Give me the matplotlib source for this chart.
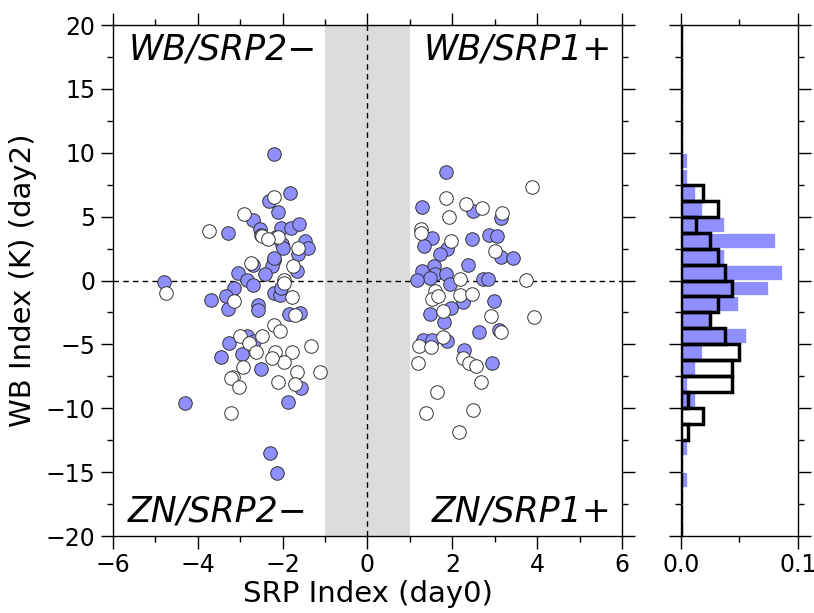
import matplotlib

matplotlib.use("Agg")

import matplotlib.pyplot as plt
import numpy as np
from matplotlib.ticker import MultipleLocator

plt.rcParams["font.family"] = ["DejaVu Sans"]

# filled (blue) points: SRP index (day0), WB index (day2)
blue_x = [-1.83, -2.32, -2.12, -2.70, -3.30, -2.54, -2.03, -1.81, -1.61, -2.15,
          -2.52, -2.01, -1.99, -1.48, -1.40, -1.64, -1.67, -2.71, -2.20, -2.26,
          -2.20, -2.42, -3.05, -2.83, -2.21, -4.80, -2.70, -3.15, -3.70, -3.33,
          -3.29, -2.59, -2.58, -2.20, -2.07, -2.03, -1.86, -1.60, -2.85, -2.67,
          -3.27, -2.96, -3.46, -2.52, -1.56, -4.31, -2.30, -2.13, -1.87,
          1.84, 1.29, 2.49, 3.14, 1.53, 1.33, 2.47, 2.86, 3.06, 1.88,
          1.72, 3.14, 3.43, 2.37, 1.56, 1.29, 1.59, 1.47, 1.86, 2.73,
          2.83, 1.16, 1.94, 2.25, 2.98, 1.98, 1.47, 1.81, 2.62, 3.10,
          1.31, 1.51, 1.88, 2.27, 2.94]
blue_y = [6.87, 6.22, 5.34, 4.74, 3.74, 4.01, 4.08, 4.08, 4.40, 3.38,
          3.56, 2.86, 2.52, 3.12, 2.57, 2.07, 0.77, 1.21, 1.60, 1.13,
          1.74, 0.51, 0.56, 0.05, 9.90, -0.09, -0.38, -0.55, -1.55, -1.24,
          -2.21, -1.94, -2.33, -0.98, -1.11, -0.59, -2.62, -2.54, -4.37, -4.76,
          -4.89, -5.75, -5.99, -6.90, -8.41, -9.56, -13.53, -15.04, -9.49,
          8.52, 5.73, 5.44, 4.87, 3.30, 2.70, 3.22, 3.56, 3.51, 2.44,
          2.07, 1.86, 1.79, 1.21, 1.13, 0.77, 0.51, 0.17, 0.51, 0.09,
          0.09, 0.04, -0.27, -1.68, -1.58, -2.15, -2.60, -3.27, -4.06, -3.85,
          -4.63, -4.63, -4.71, -5.42, -6.46]

# open (white) points
open_x = [-2.20, -2.92, -3.74, -2.49, -2.11, -1.64, -1.75, -2.74, -1.97, -1.97,
          -2.34, -1.78, -1.71, -2.20, -2.06, -3.01, -2.49, -2.79, -2.63, -2.19,
          -1.78, -1.97, -1.34, -2.93, -1.67, -1.11, -3.18, -3.22, -2.12, -1.71,
          -3.15, -4.74, -3.21, -3.04, -2.24,
          3.87, 1.84, 1.92, 2.33, 2.69, 3.17, 1.26, 1.27, 1.98, 3.00,
          2.18, 3.73, 1.59, 1.51, 1.66, 2.18, 2.47, 1.78, 2.91, 3.92,
          3.14, 1.78, 1.21, 1.49, 2.25, 2.39, 2.57, 1.18, 2.67, 1.65,
          1.39, 2.48, 2.15]
open_y = [6.51, 5.21, 3.90, 3.48, 3.43, 2.52, 1.13, 1.35, 0.04, -0.17,
          3.25, -1.32, -2.68, -3.51, -3.93, -4.37, -4.37, -4.89, -5.60, -5.60,
          -5.60, -6.38, -5.10, -6.80, -7.16, -7.19, -7.58, -7.63, -7.95, -8.10,
          -1.63, -1.00, -10.35, -8.31, -6.09,
          7.34, 6.43, 5.00, 5.99, 5.65, 5.26, 4.01, 3.69, 3.12, 2.31,
          0.09, 0.04, -0.85, -1.42, -1.24, -1.16, -1.06, -2.41, -2.81, -2.86,
          -4.06, -4.42, -5.15, -5.23, -6.07, -6.46, -6.72, -6.46, -7.95, -8.70,
          -10.35, -10.14, -11.88]

# histograms of WB index, bins of 1.25 K from -20 to 20 (counts, ascending)
bin_width = 1.25
bin_lower = np.arange(-20, 20, bin_width)
blue_counts = [0, 0, 0, 1, 0, 1, 0, 0, 2, 1, 2, 3, 9, 4, 8, 12,
               14, 6, 13, 6, 3, 2, 1, 1, 0, 0, 0, 0, 0, 0, 0, 0]
open_counts = [0, 0, 0, 0, 0, 0, 1, 3, 1, 7, 7, 8, 6, 4, 5, 7,
               6, 5, 4, 2, 5, 3, 0, 0, 0, 0, 0, 0, 0, 0, 0, 0]
n_total = 160

blue = "#8f8fff"


def _ticks(ax: plt.Axes) -> None:
    ax.tick_params(which="both", direction="out", top=True, right=True, width=1.0, labelsize=17)
    ax.tick_params(which="major", length=9)
    ax.tick_params(which="minor", length=4)
    for spine in ax.spines.values():
        spine.set_linewidth(1.0)


fig = plt.figure(figsize=(8.14, 6.13), dpi=100)
ax = fig.add_axes([0.1388, 0.1256, 0.6253, 0.8336])
axh = fig.add_axes([0.8366, 0.1256, 0.1437, 0.8336])

ax.axvspan(-1, 1, color="#dcdcdc", lw=0, zorder=0)
ax.axvline(0, color="black", ls=(0, (4, 3)), lw=1.0, zorder=1)
ax.axhline(0, color="black", ls=(0, (4, 3)), lw=1.0, zorder=1)
ax.scatter(blue_x, blue_y, s=95, color=blue, edgecolors="#333333", linewidths=0.7, zorder=3)
ax.scatter(open_x, open_y, s=95, color="white", edgecolors="#333333", linewidths=0.7, zorder=3)

ax.set_xlim(-6, 6)
ax.set_ylim(-20, 20)
ax.xaxis.set_major_locator(MultipleLocator(2))
ax.xaxis.set_minor_locator(MultipleLocator(1))
ax.yaxis.set_major_locator(MultipleLocator(5))
ax.yaxis.set_minor_locator(MultipleLocator(2.5))
_ticks(ax)
ax.set_xlabel("SRP Index (day0)", fontsize=21, labelpad=2)
ax.set_ylabel("WB Index (K) (day2)", fontsize=21, labelpad=6)

label_kw = dict(transform=ax.transAxes, fontsize=25, style="italic", zorder=4)
ax.text(0.03, 0.985, "WB/SRP2\u2212", ha="left", va="top", **label_kw)
ax.text(0.98, 0.985, "WB/SRP1+", ha="right", va="top", **label_kw)
ax.text(0.03, 0.015, "ZN/SRP2\u2212", ha="left", va="bottom", **label_kw)
ax.text(0.98, 0.015, "ZN/SRP1+", ha="right", va="bottom", **label_kw)

blue_frac = np.array(blue_counts) / n_total
open_frac = np.array(open_counts) / n_total
axh.barh(bin_lower, blue_frac, height=bin_width, align="edge", color=blue,
         edgecolor="white", linewidth=1.2, zorder=2)
axh.barh(bin_lower, open_frac, height=bin_width, align="edge", fill=False,
         edgecolor="black", linewidth=2.5, zorder=3)
axh.set_xlim(0, 0.1)
axh.set_ylim(-20, 20)
axh.xaxis.set_major_locator(MultipleLocator(0.1))
axh.xaxis.set_minor_locator(MultipleLocator(0.05))
axh.yaxis.set_major_locator(MultipleLocator(5))
axh.yaxis.set_minor_locator(MultipleLocator(2.5))
axh.xaxis.set_major_formatter(plt.FormatStrFormatter("%.1f"))
_ticks(axh)
axh.tick_params(axis="y", labelleft=False)

fig.savefig("out.png", dpi=100)
